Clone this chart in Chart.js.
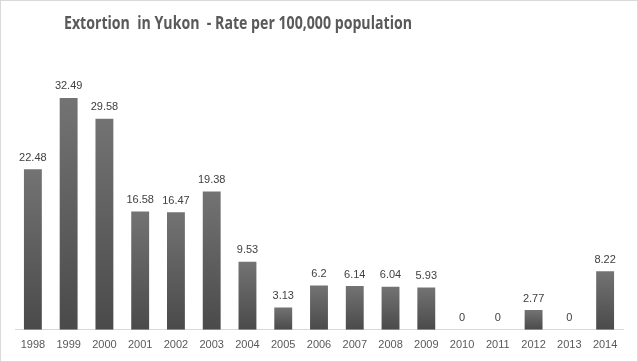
<!DOCTYPE html>
<html>
<head>
<meta charset="utf-8">
<script src="https://cdn.jsdelivr.net/npm/chart.js@4"></script>
<style>
  html, body { margin: 0; padding: 0; background: #fff; }
  #wrap { position: relative; width: 638px; height: 362px; box-sizing: border-box; border: 1px solid #d9d9d9; }
  canvas { display: block; }
</style>
</head>
<body>
<div id="wrap"><canvas id="myChart" width="636" height="360"></canvas></div>
<script>
const titleText = "Extortion  in Yukon  - Rate per 100,000 population";
const years = ["1998", "1999", "2000", "2001", "2002", "2003", "2004", "2005", "2006",
  "2007", "2008", "2009", "2010", "2011", "2012", "2013", "2014"];
const rates = [22.48, 32.49, 29.58, 16.58, 16.47, 19.38, 9.53, 3.13, 6.2,
  6.14, 6.04, 5.93, 0, 0, 2.77, 0, 8.22];

// title drawn left of centre like the original, squeezed to the width of the Calibri one
const titlePlugin = {
  id: "leftTitle",
  afterDraw(chart) {
    const ctx = chart.ctx;
    ctx.save();
    ctx.font = "bold 17px 'Open Sans', sans-serif";
    ctx.fillStyle = "#595959";
    ctx.textAlign = "center";
    ctx.textBaseline = "middle";
    const w = ctx.measureText(titleText).width;
    const sx = Math.min(1, 348 / w);
    ctx.translate(237, 23);
    ctx.scale(sx, 1);
    ctx.fillText(titleText, 0, 0);
    ctx.restore();
  },
};

// value labels above each bar
const valueLabels = {
  id: "valueLabels",
  afterDatasetsDraw(chart) {
    const ctx = chart.ctx;
    const meta = chart.getDatasetMeta(0);
    ctx.save();
    ctx.font = "11px 'Liberation Sans', sans-serif";
    ctx.fillStyle = "#404040";
    ctx.textAlign = "center";
    ctx.textBaseline = "bottom";
    meta.data.forEach((bar, i) => {
      ctx.fillText(String(rates[i]), bar.x, bar.y - 6);
    });
    ctx.restore();
  },
};

function barGradient(context) {
  const chart = context.chart;
  if (!chart.chartArea) return "#595959";
  const y = chart.scales.y;
  const v = context.raw || 0;
  const top = y.getPixelForValue(v);
  const bottom = y.getPixelForValue(0);
  const g = chart.ctx.createLinearGradient(0, top, 0, bottom + 0.01);
  g.addColorStop(0, "#737373");
  g.addColorStop(1, "#4a4a4a");
  return g;
}

const ctx = document.getElementById("myChart");
new Chart(ctx, {
  type: "bar",
  data: {
    labels: years,
    datasets: [
      {
        data: rates,
        backgroundColor: barGradient,
        borderWidth: 0,
        barPercentage: 0.5,
        categoryPercentage: 1,
      },
    ],
  },
  options: {
    responsive: false,
    animation: false,
    layout: { padding: { left: 14, right: 14, top: 79, bottom: 0 } },
    plugins: {
      legend: { display: false },
      tooltip: { enabled: false },
      title: { display: false },
    },
    scales: {
      x: {
        grid: { display: false, drawTicks: false },
        border: { color: "#d9d9d9", width: 1 },
        ticks: {
          color: "#595959",
          font: { family: "'Liberation Sans', sans-serif", size: 11 },
          padding: 9,
          maxRotation: 0,
          autoSkip: false,
        },
      },
      y: {
        display: false,
        min: 0,
        max: 35,
      },
    },
  },
  plugins: [titlePlugin, valueLabels],
});
</script>
</body>
</html>
